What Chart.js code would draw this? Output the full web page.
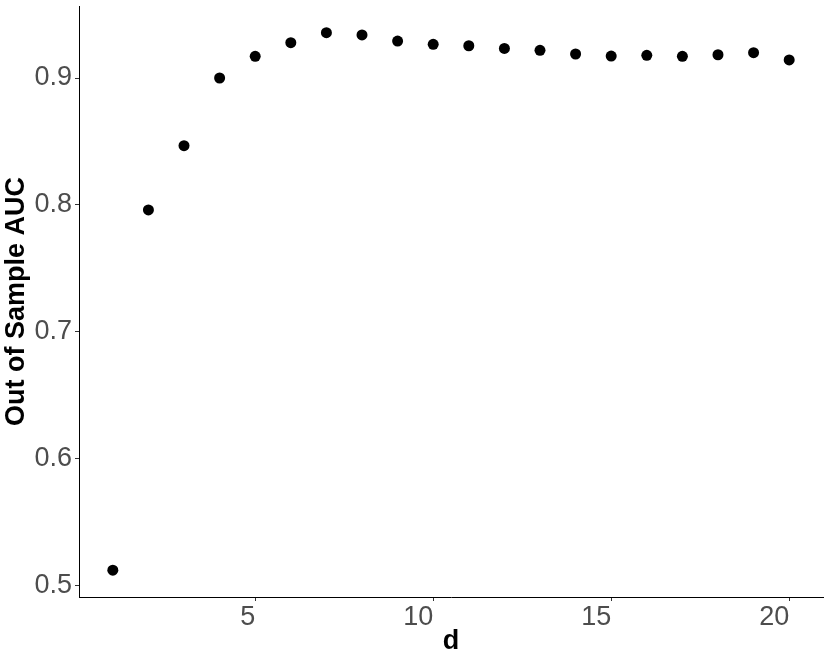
<!DOCTYPE html>
<html>
<head>
<meta charset="utf-8">
<script src="https://cdn.jsdelivr.net/npm/chart.js@4/dist/chart.umd.min.js"></script>
<style>
  html, body { margin: 0; padding: 0; background: #fff; }
  #aucChart { display: block; }
</style>
</head>
<body>
<canvas id="aucChart" width="830" height="664"></canvas>
<script>
// values
const dValues = [1, 2, 3, 4, 5, 6, 7, 8, 9, 10, 11, 12, 13, 14, 15, 16, 17, 18, 19, 20];
const aucValues = [0.5124, 0.7961, 0.8467, 0.9000, 0.9171, 0.9278, 0.9357, 0.9339, 0.9291, 0.9265,
                   0.9254, 0.9233, 0.9218, 0.9189, 0.9173, 0.9179, 0.9171, 0.9183, 0.9199, 0.9142];
const xTickValues = [5, 10, 15, 20];
const yTickValues = [0.5, 0.6, 0.7, 0.8, 0.9];

const FONT = "'Liberation Sans', Arial, Helvetica, sans-serif";

const points = dValues.map((d, i) => ({ x: d, y: aucValues[i] }));

const ctx = document.getElementById("aucChart").getContext("2d");

new Chart(ctx, {
  type: "scatter",
  data: {
    datasets: [
      {
        data: points,
        pointRadius: 5.5,
        pointHoverRadius: 5.5,
        pointBackgroundColor: "#000000",
        pointBorderWidth: 0
      }
    ]
  },
  options: {
    responsive: false,
    animation: false,
    layout: {
      padding: { top: 6, right: 7, bottom: 0, left: 0 }
    },
    plugins: {
      legend: { display: false },
      tooltip: { enabled: false }
    },
    scales: {
      x: {
        type: "linear",
        min: 0.05,
        max: 20.95,
        afterBuildTicks: function (scale) {
          scale.ticks = xTickValues.map(v => ({ value: v }));
        },
        afterFit: function (scale) {
          scale.height = 67;
          scale.paddingLeft = 0;
          scale.paddingRight = 0;
        },
        border: { display: true, color: "#000000", width: 1 },
        grid: {
          drawOnChartArea: false,
          drawTicks: true,
          tickLength: 4,
          tickColor: "#333333"
        },
        ticks: {
          align: "end",
          padding: 0,
          color: "#4D4D4D",
          font: { family: FONT, size: 27 }
        },
        title: {
          display: true,
          text: "d",
          color: "#000000",
          padding: { top: 0, bottom: 6 },
          font: { family: FONT, size: 27, weight: "bold" }
        }
      },
      y: {
        type: "linear",
        min: 0.4913,
        max: 0.9567,
        afterBuildTicks: function (scale) {
          scale.ticks = yTickValues.map(v => ({ value: v }));
        },
        afterFit: function (scale) {
          scale.width = 79;
          scale.paddingTop = 0;
          scale.paddingBottom = 0;
        },
        border: { display: true, color: "#000000", width: 1 },
        grid: {
          drawOnChartArea: false,
          drawTicks: true,
          tickLength: 4,
          tickColor: "#333333"
        },
        ticks: {
          padding: 3,
          color: "#4D4D4D",
          font: { family: FONT, size: 27 },
          callback: function (value) {
            return Number(value).toFixed(1);
          }
        },
        title: {
          display: true,
          text: "Out of Sample AUC",
          color: "#000000",
          padding: { top: 0.5, bottom: 0 },
          font: { family: FONT, size: 27, weight: "bold" }
        }
      }
    }
  }
});
</script>
</body>
</html>
